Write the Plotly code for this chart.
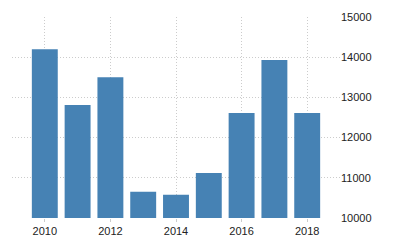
import plotly.graph_objects as go

years = [2010, 2011, 2012, 2013, 2014, 2015, 2016, 2017, 2018]
values = [14200, 12810, 13500, 10650, 10580, 11120, 12610, 13930, 12610]
x_ticks = [2010, 2012, 2014, 2016, 2018]
y_ticks = [10000, 11000, 12000, 13000, 14000, 15000]

fig = go.Figure(go.Bar(x=years, y=values, marker_color="#4682B4", marker_line_width=0))

fig.update_layout(
    width=400, height=250,
    margin=dict(l=12, r=60, t=17, b=32),
    paper_bgcolor="white", plot_bgcolor="white",
    bargap=0.21,
    showlegend=False,
    font=dict(family="Liberation Sans, Arial", size=11, color="#222"),
)
fig.update_xaxes(
    range=[2009, 2019], tickvals=x_ticks, ticktext=[str(v) for v in x_ticks],
    showgrid=True, gridcolor="#cccccc", griddash="1px,2px", gridwidth=1,
    zeroline=False, showline=False, ticks="outside", ticklen=3,
    tickcolor="#cccccc", tickwidth=1,
)
fig.update_yaxes(
    side="right", range=[10000, 15000], tickvals=y_ticks,
    ticktext=[str(v) for v in y_ticks],
    showgrid=True, gridcolor="#cccccc", griddash="1px,2px", gridwidth=1,
    zeroline=False, showline=False, ticks="",
)

fig.write_html("out.html")
